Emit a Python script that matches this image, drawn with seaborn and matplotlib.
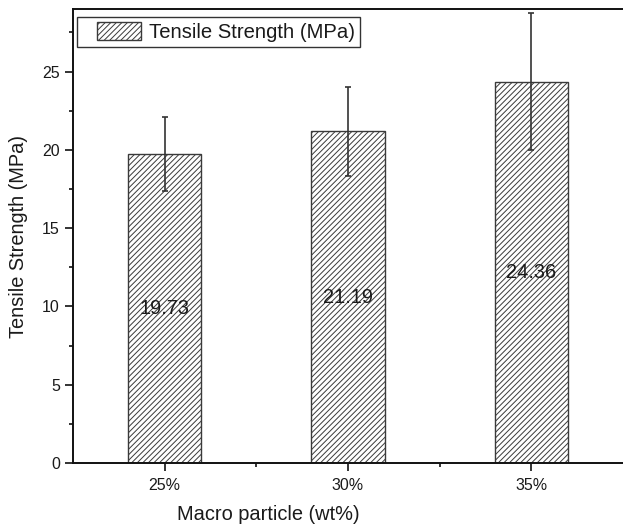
import numpy as np
import matplotlib
matplotlib.use('Agg')
import matplotlib.pyplot as plt
from matplotlib.patches import Rectangle
from matplotlib.legend_handler import HandlerPatch
from matplotlib.ticker import MultipleLocator, FixedLocator
import seaborn as sns

# data
categories = ['25%', '30%', '35%']
strength = [19.73, 21.19, 24.36]
strength_err = [2.35, 2.83, 4.36]
legend_label = 'Tensile Strength (MPa)'

sns.set_style('ticks')
plt.rcParams['font.family'] = ['Liberation Sans', 'DejaVu Sans']
plt.rcParams['hatch.linewidth'] = 0.7
plt.rcParams['hatch.color'] = '#4a4a4a'

ink = '#1a1a1a'

fig = plt.figure(figsize=(6.23, 5.31), dpi=100)
ax = fig.add_axes([73 / 623, 68 / 531, 550 / 623, 454 / 531])

sns.barplot(x=categories, y=strength, ax=ax, color='white', width=0.4,
            edgecolor='#3a3a3a', linewidth=1.0, hatch='//////',
            label=legend_label, errorbar=None)

bars = ax.containers[0]
ax.bar_label(bars, fmt='%.2f', label_type='center', fontsize=14.4, color=ink)

# error bars at the bar centres
centers = [p.get_x() + p.get_width() / 2 for p in bars.patches]
ax.errorbar(centers, strength, yerr=strength_err, fmt='none',
            ecolor='#333333', elinewidth=1.2, capsize=2.5, capthick=1.2)

ax.set_xlim(-0.5, 2.5)
ax.set_ylim(0, 29)
ax.yaxis.set_major_locator(MultipleLocator(5))
ax.yaxis.set_minor_locator(MultipleLocator(2.5))
ax.xaxis.set_minor_locator(FixedLocator([0.5, 1.5]))

for side in ['left', 'bottom', 'top']:
    ax.spines[side].set_visible(True)
    ax.spines[side].set_linewidth(1.4)
    ax.spines[side].set_color('#111111')
ax.spines['right'].set_visible(False)

ax.tick_params(axis='both', which='major', direction='out', length=6,
               width=1.2, color='#111111', labelsize=11.5, labelcolor=ink)
ax.tick_params(axis='both', which='minor', direction='out', length=3.2,
               width=1.2, color='#111111')
ax.tick_params(axis='y', which='major', pad=3.5)
ax.tick_params(axis='x', which='major', pad=5)

ax.set_xlabel('Macro particle (wt%)', fontsize=14.4, color=ink)
ax.set_ylabel('Tensile Strength (MPa)', fontsize=14.4, color=ink)
ax.xaxis.set_label_coords(0.355, -0.093)
ax.yaxis.set_label_coords(-0.082, 0.5)


def right_patch(legend, orig_handle, xdescent, ydescent, width, height, fontsize):
    w = 31.7
    return Rectangle((-xdescent + width - w, -ydescent), w, height)


leg_handle = bars.patches[0]
leg = ax.legend([leg_handle], [legend_label], loc='upper left',
                bbox_to_anchor=(4 / 550, 1 - 8 / 454), borderaxespad=0,
                fontsize=14.6, frameon=True, fancybox=False, framealpha=1,
                edgecolor='#333333', borderpad=0.25, handlelength=2.9,
                handleheight=1.0, handletextpad=0.4,
                handler_map={leg_handle: HandlerPatch(patch_func=right_patch)})
leg.get_frame().set_linewidth(1.0)
for t in leg.get_texts():
    t.set_color(ink)

fig.savefig('out.png', dpi=100)
